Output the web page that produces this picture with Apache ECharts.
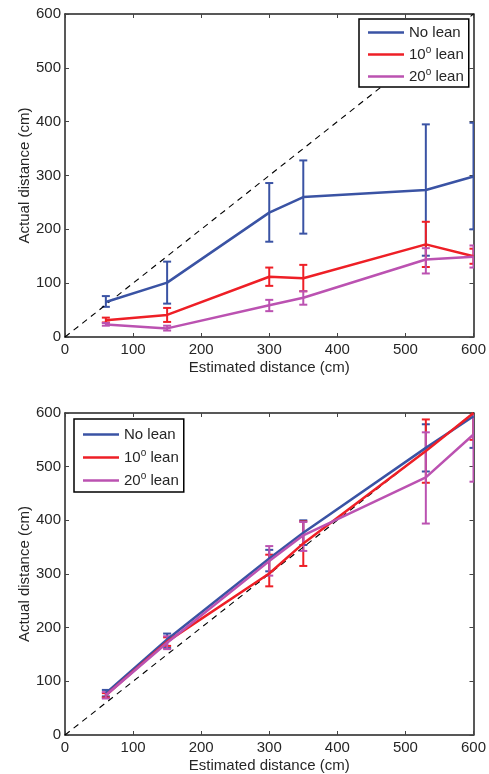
<!DOCTYPE html>
<html>
<head>
<meta charset="utf-8">
<script src="https://cdn.jsdelivr.net/npm/echarts@6/dist/echarts.min.js"></script>
<style>html,body{margin:0;padding:0;background:#fff}#c{width:489px;height:774px}</style>
</head>
<body>
<div id="c"></div>
<script>
const xs = [60, 150, 300, 350, 530, 600];
const seriesNames = ['No lean', '10° lean', '20° lean'];
const tickValues = [0, 100, 200, 300, 400, 500, 600];

// Top panel
const topNoLean = [65, 101, 231, 260, 273, 298];
const topNoLeanLo = [56, 62, 177, 192, 151, 200];
const topNoLeanHi = [76, 140, 286, 328, 395, 398];
const top10 = [31, 41, 112, 109, 172, 150];
const top10Lo = [27, 28, 95, 85, 130, 136];
const top10Hi = [36, 54, 129, 134, 214, 164];
const top20 = [23, 16, 59, 73, 144, 149];
const top20Lo = [21, 12, 48, 60, 118, 129];
const top20Hi = [26, 21, 69, 85, 165, 170];

// Bottom panel
const botNoLean = [78, 178, 329, 377, 535, 594];
const botNoLeanLo = [72, 162, 305, 354, 491, 535];
const botNoLeanHi = [84, 189, 345, 400, 579, 653];
const bot10 = [74, 174, 301, 357, 529, 600];
const bot10Lo = [70, 166, 277, 315, 470, 550];
const bot10Hi = [78, 182, 336, 398, 588, 650];
const bot20 = [74, 172, 324, 372, 480, 560];
const bot20Lo = [68, 160, 297, 343, 394, 472];
const bot20Hi = [80, 184, 352, 397, 564, 648];

const diag = [[0, 0], [600, 600]];

const colors = ['#3a53a4', '#ee1f26', '#bb52b1'];
const FONT = 'Liberation Sans';
const TXT = '#262626';

function pairs(x, y) { return x.map((v, i) => [v, y[i]]); }
function errData(x, lo, hi) { return x.map((v, i) => [v, lo[i], hi[i]]); }

function errSeries(g, x, lo, hi, color) {
  return {
    type: 'custom', xAxisIndex: g * 2, yAxisIndex: g * 2, clip: true,
    data: errData(x, lo, hi), encode: { x: 0, y: [1, 2] },
    renderItem: function (params, api) {
      const xv = api.value(0);
      const p1 = api.coord([xv, api.value(1)]);
      const p2 = api.coord([xv, api.value(2)]);
      const w = 4;
      const st = { stroke: color, lineWidth: 2 };
      return {
        type: 'group', children: [
          { type: 'line', shape: { x1: p1[0], y1: p1[1], x2: p2[0], y2: p2[1] }, style: st },
          { type: 'line', shape: { x1: p1[0] - w, y1: p1[1], x2: p1[0] + w, y2: p1[1] }, style: st },
          { type: 'line', shape: { x1: p2[0] - w, y1: p2[1], x2: p2[0] + w, y2: p2[1] }, style: st }
        ]
      };
    }
  };
}
function lineSeries(g, name, x, y, color) {
  return {
    type: 'line', name: name, xAxisIndex: g * 2, yAxisIndex: g * 2,
    data: pairs(x, y), symbol: 'none', color: color,
    lineStyle: { color: color, width: 2.5 }, emphasis: { disabled: true }
  };
}
function diagSeries(g) {
  return {
    type: 'line', xAxisIndex: g * 2, yAxisIndex: g * 2, data: diag, symbol: 'none',
    lineStyle: { color: '#000', width: 1.1, type: [6, 5] }, z: 3, silent: true
  };
}

const axisLine = { show: true, onZero: false, lineStyle: { color: '#222', width: 1.5 } };
const axisTick = { show: true, inside: true, length: 4, lineStyle: { color: '#444', width: 1 } };

function mainX(g) {
  return {
    gridIndex: g, type: 'value', min: 0, max: 600, interval: 100, position: 'bottom',
    axisLine: axisLine, axisTick: axisTick, splitLine: { show: false },
    axisLabel: { margin: 5, fontFamily: FONT, fontSize: 15, color: TXT,
      formatter: v => tickValues.includes(v) ? String(v) : '' },
    name: 'Estimated distance (cm)', nameLocation: 'middle', nameGap: 23,
    nameTextStyle: { fontFamily: FONT, fontSize: 15, color: TXT }
  };
}
function sideX(g) {
  return {
    gridIndex: g, type: 'value', min: 0, max: 600, interval: 100, position: 'top',
    axisLine: axisLine, axisTick: axisTick, axisLabel: { show: false }, splitLine: { show: false }
  };
}
function mainY(g) {
  return {
    gridIndex: g, type: 'value', min: 0, max: 600, interval: 100, position: 'left',
    axisLine: axisLine, axisTick: axisTick, splitLine: { show: false },
    axisLabel: { margin: 4, fontFamily: FONT, fontSize: 15, color: TXT },
    name: 'Actual distance (cm)', nameLocation: 'middle', nameGap: 33, nameRotate: 90,
    nameMoveOverlap: false,
    nameTextStyle: { fontFamily: FONT, fontSize: 15, color: TXT }
  };
}
function sideY(g) {
  return {
    gridIndex: g, type: 'value', min: 0, max: 600, interval: 100, position: 'right',
    axisLine: axisLine, axisTick: axisTick, axisLabel: { show: false }, splitLine: { show: false }
  };
}

function legend(left, top, gap, padTop, padBot) {
  return {
    left: left, top: top, orient: 'vertical', data: seriesNames, selectedMode: false,
    icon: 'rect', itemWidth: 36, itemHeight: 2.5, itemGap: gap,
    padding: [padTop, 5, padBot, 9], backgroundColor: '#fff', borderColor: '#000', borderWidth: 1.5,
    formatter: function (n) {
      if (n === seriesNames[0]) return '{n|No lean}';
      return '{n|' + n.slice(0, 2) + '}{s|o}{n| lean}';
    },
    textStyle: {
      fontFamily: FONT, fontSize: 15, color: TXT,
      rich: {
        n: { fontFamily: FONT, fontSize: 15, color: TXT, lineHeight: 18 },
        s: { fontFamily: FONT, fontSize: 10, color: TXT, lineHeight: 10, verticalAlign: 'top' }
      }
    }
  };
}

const chart = echarts.init(document.getElementById('c'), null, { renderer: 'canvas' });
chart.setOption({
  animation: false,
  backgroundColor: '#fff',
  grid: [
    { left: 65, top: 14, width: 409, height: 323 },
    { left: 65, top: 413, width: 409, height: 322 }
  ],
  xAxis: [mainX(0), sideX(0), mainX(1), sideX(1)],
  yAxis: [mainY(0), sideY(0), mainY(1), sideY(1)],
  legend: [legend(359, 19, 5.5, 6, 3), legend(74, 419, 6.5, 8, 4)],
  series: [
    diagSeries(0),
    lineSeries(0, seriesNames[0], xs, topNoLean, colors[0]),
    errSeries(0, xs, topNoLeanLo, topNoLeanHi, colors[0]),
    lineSeries(0, seriesNames[1], xs, top10, colors[1]),
    errSeries(0, xs, top10Lo, top10Hi, colors[1]),
    lineSeries(0, seriesNames[2], xs, top20, colors[2]),
    errSeries(0, xs, top20Lo, top20Hi, colors[2]),
    diagSeries(1),
    lineSeries(1, seriesNames[0], xs, botNoLean, colors[0]),
    errSeries(1, xs, botNoLeanLo, botNoLeanHi, colors[0]),
    lineSeries(1, seriesNames[1], xs, bot10, colors[1]),
    errSeries(1, xs, bot10Lo, bot10Hi, colors[1]),
    lineSeries(1, seriesNames[2], xs, bot20, colors[2]),
    errSeries(1, xs, bot20Lo, bot20Hi, colors[2])
  ]
});
</script>
</body>
</html>
